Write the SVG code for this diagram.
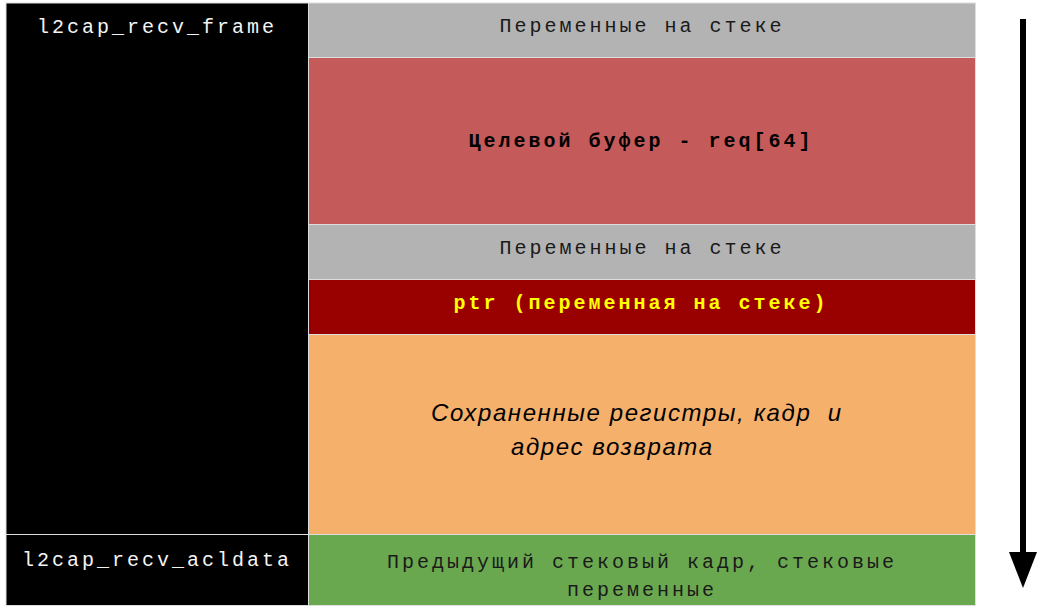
<svg xmlns="http://www.w3.org/2000/svg" width="1051" height="609" viewBox="0 0 1051 609">
<style>
.mono{font-family:"Liberation Mono","Courier New",monospace;font-size:20px;letter-spacing:3px;text-anchor:middle}
.lbl{fill:#f4f4f4}
.dark{fill:#1a1a1a}
.bold{font-weight:bold;fill:#000}
.ital{font-family:"Liberation Sans",Arial,sans-serif;font-style:italic;font-size:24px;fill:#000;letter-spacing:1.6px;white-space:pre}
.cell{stroke:#dedede;stroke-width:1}
</style>
<defs>
<marker id="ah" markerUnits="userSpaceOnUse" markerWidth="36" markerHeight="28" refX="0" refY="14" orient="auto" viewBox="0 0 36 28">
<path d="M0,0 L36,14 L0,28 Z" fill="#000"/>
</marker>
</defs>
<rect width="1051" height="609" fill="#fff"/>
<g id="frame-recv-frame">
<rect x="6" y="3" width="302.5" height="531.5" fill="#000" class="cell"/>
<text x="157" y="33" class="mono lbl">l2cap_recv_frame</text>
</g>
<g id="frame-recv-acldata">
<rect x="6" y="534.5" width="302.5" height="71" fill="#000" class="cell"/>
<text x="157" y="566" class="mono lbl">l2cap_recv_acldata</text>
</g>
<g id="stack-vars-1">
<rect x="308.5" y="3" width="667" height="54.5" fill="#b3b3b3" class="cell"/>
<text x="642" y="32" class="mono dark">Переменные на стеке</text>
</g>
<g id="target-buffer">
<rect x="308.5" y="57.5" width="667" height="167" fill="#c55a5a" class="cell"/>
<text x="641" y="147" class="mono bold">Целевой буфер - req[64]</text>
</g>
<g id="stack-vars-2">
<rect x="308.5" y="224.5" width="667" height="55" fill="#b3b3b3" class="cell"/>
<text x="642" y="254" class="mono dark">Переменные на стеке</text>
</g>
<g id="ptr">
<rect x="308.5" y="279.5" width="667" height="55" fill="#990000" class="cell"/>
<text x="641" y="309" class="mono bold" style="fill:#ffff00">ptr (переменная на стеке)</text>
</g>
<g id="saved-regs">
<rect x="308.5" y="334.5" width="667" height="200" fill="#f5b06c" class="cell"/>
<text x="431" y="421" class="ital" xml:space="preserve">Сохраненные регистры, кадр  и</text>
<text x="511" y="455" class="ital">адрес возврата</text>
</g>
<g id="prev-frame">
<rect x="308.5" y="534.5" width="667" height="71" fill="#6aa84f" class="cell"/>
<text x="642" y="568" class="mono dark">Предыдущий стековый кадр, стековые</text>
<text x="642" y="596" class="mono dark">переменные</text>
</g>
<g id="connectors">
<line x1="1023" y1="19" x2="1023" y2="552" stroke="#000" stroke-width="6" marker-end="url(#ah)"/>
</g>
</svg>
